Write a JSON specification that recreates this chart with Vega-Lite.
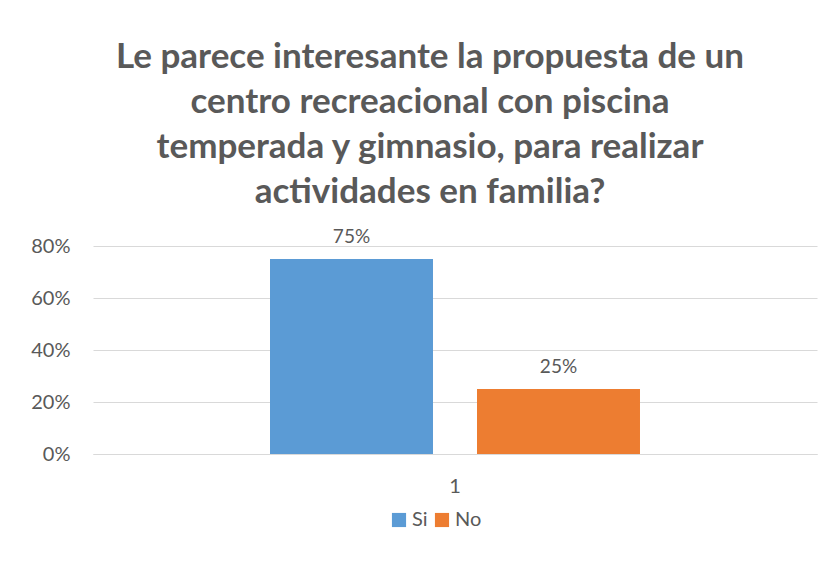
{
  "$schema": "https://vega.github.io/schema/vega-lite/v6.json",
  "width": 724,
  "height": 208,
  "autosize": {"type": "none"},
  "padding": {"left": 93, "top": 246, "right": 21, "bottom": 115},
  "background": "white",
  "title": {
    "text": ["Le parece interesante la propuesta de un", "centro recreacional con piscina", "temperada y gimnasio, para realizar", "actividades en familia?"],
    "anchor": "middle",
    "dx": -25,
    "offset": 18,
    "font": "Lato",
    "fontSize": 35,
    "fontWeight": "bold",
    "color": "#595959",
    "lineHeight": 45
  },
  "data": {"values": [
    {"cat": "1", "serie": "Si", "valor": 0.75, "etiqueta": "75%"},
    {"cat": "1", "serie": "No", "valor": 0.25, "etiqueta": "25%"}
  ]},
  "encoding": {
    "x": {"field": "cat", "type": "nominal", "scale": {"paddingInner": 0, "paddingOuter": 0.4784},
      "axis": {"title": null, "labelAngle": 0, "ticks": false, "domain": true, "domainColor": "#d9d9d9", "labelPadding": 22, "labelFont": "Lato", "labelFontSize": 20, "labelColor": "#595959"}},
    "xOffset": {"field": "serie", "type": "nominal", "sort": ["Si", "No"], "scale": {"paddingInner": 0.2126, "paddingOuter": 0}},
    "y": {"field": "valor", "type": "quantitative", "scale": {"domain": [0, 0.8]},
      "axis": {"title": null, "format": ".0%", "values": [0, 0.2, 0.4, 0.6, 0.8], "labelOverlap": false, "domain": false, "ticks": false, "grid": true, "gridColor": "#d9d9d9", "gridWidth": 1, "labelPadding": 23, "labelFont": "Lato", "labelFontSize": 20, "labelColor": "#595959"}}
  },
  "layer": [
    {"mark": {"type": "bar"},
     "encoding": {"color": {"field": "serie", "type": "nominal", "sort": ["Si", "No"], "scale": {"domain": ["Si", "No"], "range": ["#5B9BD5", "#ED7D31"]},
       "legend": {"title": null, "orient": "none", "legendX": 296, "legendY": 264, "direction": "horizontal", "symbolType": "square", "symbolSize": 200, "labelFont": "Lato", "labelFontSize": 20, "labelColor": "#595959", "columnPadding": 4, "labelOffset": 3, "symbolOpacity": 1}}}},
    {"mark": {"type": "text", "baseline": "bottom", "dy": -12, "font": "Lato", "fontSize": 19, "color": "#595959"},
     "encoding": {"text": {"field": "etiqueta"}}}
  ],
  "config": {"view": {"stroke": null}}
}
